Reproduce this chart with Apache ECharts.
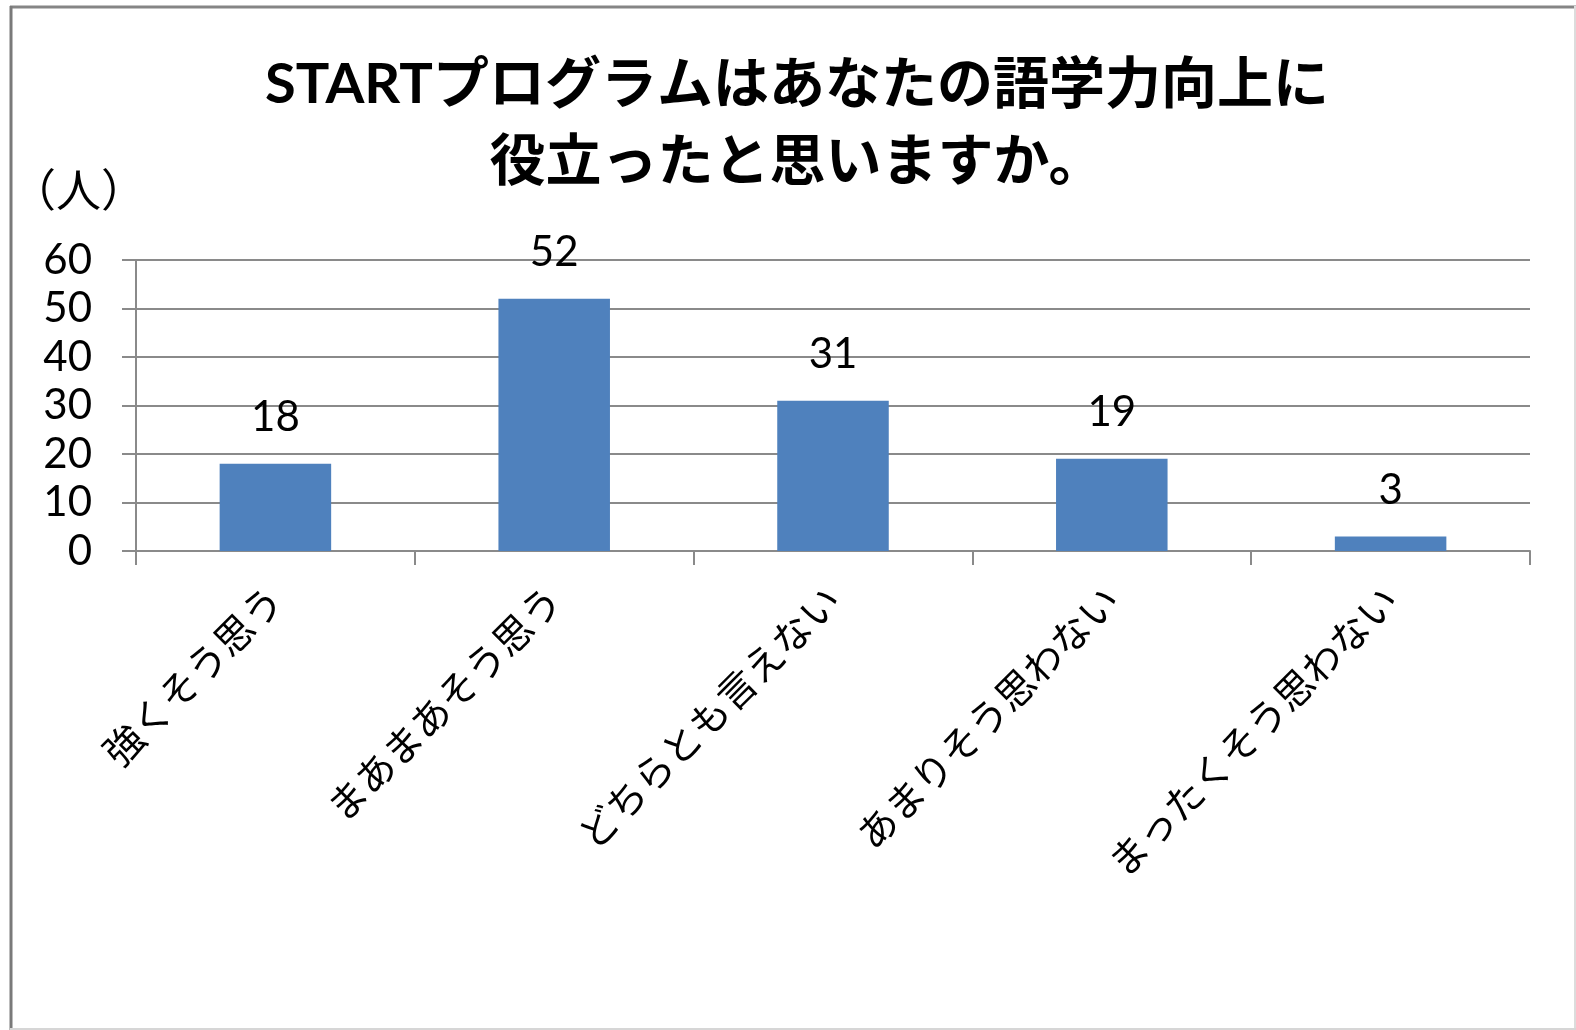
<!DOCTYPE html>
<html>
<head>
<meta charset="utf-8">
<title>STARTプログラムはあなたの語学力向上に役立ったと思いますか。</title>
<script src="https://cdn.jsdelivr.net/npm/echarts@6/dist/echarts.min.js"></script>
<style>
  html, body { margin: 0; padding: 0; background: #fff; }
  #chart { width: 1576px; height: 1030px; }
</style>
</head>
<body>
<div id="chart"></div>
<script>
// Survey answers and respondent counts
const categories = ['強くそう思う', 'まあまあそう思う', 'どちらとも言えない', 'あまりそう思わない', 'まったくそう思わない'];
const counts = [18, 52, 31, 19, 3];
const titleLines = ['STARTプログラムはあなたの語学力向上に', '役立ったと思いますか。'];
const unitLabel = '（人）';
const yMin = 0, yMax = 60, yStep = 10;

const LATIN_JP = 'Lato, "Noto Sans CJK JP", sans-serif';
const JP = '"Noto Sans CJK JP", sans-serif';
const GRID_GRAY = '#8a8a8a';

const chart = echarts.init(document.getElementById('chart'), null, { renderer: 'canvas' });

chart.setOption({
  backgroundColor: '#ffffff',
  animation: false,
  title: {
    text: titleLines.join('\n'),
    left: 797,
    top: 46,
    textAlign: 'center',
    padding: 0,
    textStyle: {
      fontFamily: LATIN_JP,
      fontWeight: 'bold',
      fontSize: 56,
      lineHeight: 77,
      color: '#000'
    }
  },
  grid: {
    left: 136,
    right: 46,
    top: 260,
    bottom: 479,
    outerBoundsMode: 'none',
    containLabel: false
  },
  xAxis: {
    type: 'category',
    data: categories,
    boundaryGap: true,
    axisLine: { show: true, lineStyle: { color: GRID_GRAY, width: 2 } },
    axisTick: { show: true, alignWithLabel: false, length: 14, lineStyle: { color: GRID_GRAY, width: 2 } },
    axisLabel: {
      rotate: 45,
      interval: 0,
      margin: 42,
      fontFamily: JP,
      fontSize: 39,
      color: '#000'
    }
  },
  yAxis: {
    type: 'value',
    min: yMin,
    max: yMax,
    interval: yStep,
    axisLine: { show: true, lineStyle: { color: GRID_GRAY, width: 2 } },
    axisTick: { show: true, inside: false, length: 14, lineStyle: { color: GRID_GRAY, width: 2 } },
    splitLine: { show: true, lineStyle: { color: GRID_GRAY, width: 2 } },
    axisLabel: {
      margin: 44,
      fontFamily: LATIN_JP,
      fontSize: 42,
      color: '#000'
    }
  },
  series: [{
    type: 'bar',
    data: counts,
    barCategoryGap: '60%',
    itemStyle: { color: '#4f81bd' },
    label: {
      show: true,
      position: 'top',
      distance: 25,
      fontFamily: LATIN_JP,
      fontSize: 42,
      color: '#000'
    }
  }],
  graphic: [
    // unit caption above the value axis
    {
      type: 'text',
      left: 11,
      top: 167,
      style: { text: unitLabel, font: '45px ' + JP, fill: '#000' }
    },
    // chart-area frame
    { type: 'line', shape: { x1: 10, y1: 7, x2: 1576, y2: 7 }, style: { stroke: '#858585', lineWidth: 3 } },
    { type: 'line', shape: { x1: 11, y1: 6, x2: 11, y2: 1030 }, style: { stroke: '#7a7a7a', lineWidth: 3 } },
    { type: 'line', shape: { x1: 1575, y1: 6, x2: 1575, y2: 1030 }, style: { stroke: '#dcdcdc', lineWidth: 2 } },
    { type: 'line', shape: { x1: 10, y1: 1029, x2: 1576, y2: 1029 }, style: { stroke: '#d6d6d6', lineWidth: 2 } }
  ]
});
</script>
</body>
</html>
